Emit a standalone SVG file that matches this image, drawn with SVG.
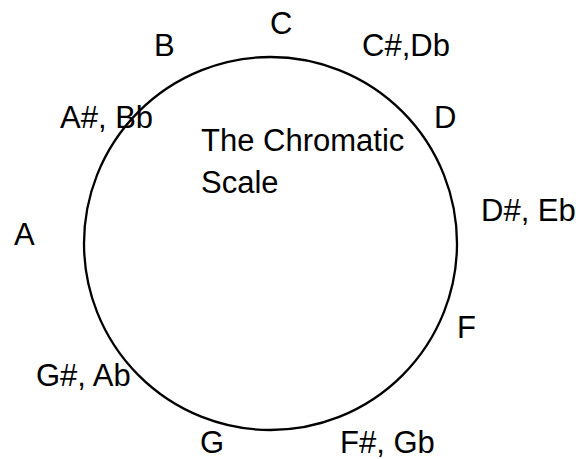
<svg xmlns="http://www.w3.org/2000/svg" width="576" height="459" viewBox="0 0 576 459">
  <style>
    .lbl { font-family: "Liberation Sans", Arial, sans-serif; font-size: 31px; fill: #000; }
    .ring { fill: none; stroke: #000; stroke-width: 2.3; }
  </style>
  <rect width="576" height="459" fill="#fff"/>
  <g id="circle">
    <ellipse class="ring" cx="270.5" cy="243.5" rx="186.5" ry="186.5"/>
  </g>
  <g id="title">
    <text class="lbl" x="201" y="151">The Chromatic</text>
    <text class="lbl" x="201" y="193">Scale</text>
  </g>
  <g id="note-C"><text class="lbl" x="270" y="33.5">C</text></g>
  <g id="note-Cs"><text class="lbl" x="362" y="56">C#,Db</text></g>
  <g id="note-D"><text class="lbl" x="434" y="128">D</text></g>
  <g id="note-Ds"><text class="lbl" x="481" y="221">D#, Eb</text></g>
  <g id="note-F"><text class="lbl" x="457" y="337.5">F</text></g>
  <g id="note-Fs"><text class="lbl" x="340" y="453">F#, Gb</text></g>
  <g id="note-G"><text class="lbl" x="200" y="453">G</text></g>
  <g id="note-Gs"><text class="lbl" x="36" y="386">G#, Ab</text></g>
  <g id="note-A"><text class="lbl" x="14" y="245">A</text></g>
  <g id="note-As"><text class="lbl" x="60" y="128">A#, Bb</text></g>
  <g id="note-B"><text class="lbl" x="154" y="56">B</text></g>
  <g id="connectors"/>
</svg>
